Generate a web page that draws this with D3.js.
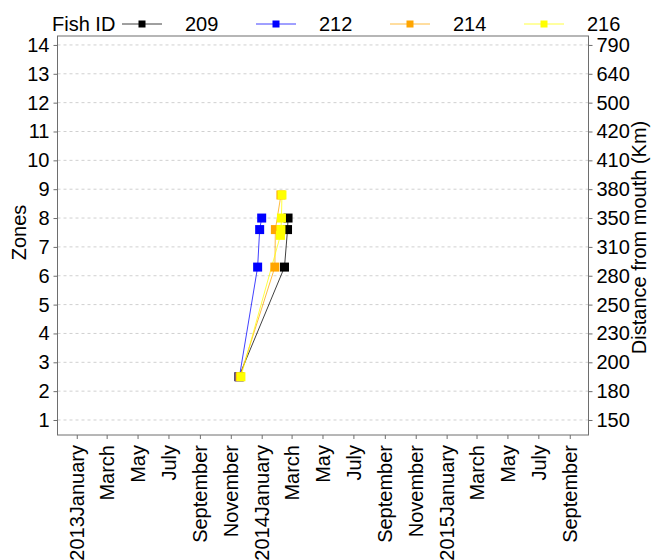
<!DOCTYPE html>
<html>
<head>
<meta charset="utf-8">
<script src="https://cdn.jsdelivr.net/npm/d3@7/dist/d3.min.js"></script>
<style>
  html, body { margin: 0; padding: 0; background: #fff; }
  svg { display: block; font-family: "Liberation Sans", Arial, sans-serif; }
</style>
</head>
<body>
<svg id="chart" width="651" height="560"></svg>
<script>
// Fish IDs and their colours
const fishIds = ["209", "212", "214", "216"];
const fishColors = ["#000000", "#0000ff", "#ffa500", "#ffff00"];

// Detection dates and zones per fish
const dates209 = ["2013-11-17", "2014-02-15", "2014-02-21", "2014-02-22"];
const zones209 = [2.5, 6.3, 7.6, 8.0];
const dates212 = ["2013-11-18", "2013-12-24", "2013-12-28", "2014-01-01"];
const zones212 = [2.5, 6.3, 7.6, 8.0];
const dates214 = ["2013-11-19", "2014-01-27", "2014-01-28", "2014-02-08"];
const zones214 = [2.5, 6.3, 7.6, 8.8];
const dates216 = ["2013-11-21", "2014-02-07", "2014-02-08", "2014-02-09", "2014-02-10"];
const zones216 = [2.5, 7.4, 7.6, 8.0, 8.8];

// Axis ticks
const zoneTicks = [1, 2, 3, 4, 5, 6, 7, 8, 9, 10, 11, 12, 13, 14];
const distanceLabels = ["150", "180", "200", "230", "250", "280", "310", "350", "380", "410", "420", "500", "640", "790"];
const monthTicks = ["2013-01", "2013-03", "2013-05", "2013-07", "2013-09", "2013-11",
                    "2014-01", "2014-03", "2014-05", "2014-07", "2014-09", "2014-11",
                    "2015-01", "2015-03", "2015-05", "2015-07", "2015-09"];

const parseDay = d3.timeParse("%Y-%m-%d");
const parseMonth = d3.timeParse("%Y-%m");

const seriesDates = [dates209, dates212, dates214, dates216];
const seriesZones = [zones209, zones212, zones214, zones216];
const series = fishIds.map((id, i) => ({
  id,
  color: fishColors[i],
  points: seriesDates[i].map((d, j) => ({ date: parseDay(d), zone: seriesZones[i][j] }))
}));

const svg = d3.select("#chart");
const panel = { left: 57.5, right: 588.5, top: 36, bottom: 435 };
const fontSize = 20;

const x = d3.scaleTime()
  .domain([parseDay("2012-11-24"), parseDay("2015-10-08")])
  .range([panel.left, panel.right]);
const y = d3.scaleLinear()
  .domain([0.48, 14.31])
  .range([panel.bottom, panel.top]);

// dashed horizontal gridlines
svg.append("g")
  .selectAll("line")
  .data(zoneTicks)
  .join("line")
  .attr("x1", panel.left).attr("x2", panel.right)
  .attr("y1", d => y(d)).attr("y2", d => y(d))
  .attr("stroke", "#d0d0d0")
  .attr("stroke-width", 1)
  .attr("stroke-dasharray", "3,3");

// panel border
svg.append("rect")
  .attr("x", panel.left).attr("y", panel.top)
  .attr("width", panel.right - panel.left)
  .attr("height", panel.bottom - panel.top)
  .attr("fill", "none")
  .attr("stroke", "#6e6e6e")
  .attr("stroke-width", 1);

function styleAxis(g) {
  g.select(".domain").remove();
  g.selectAll(".tick line").attr("stroke", "#6e6e6e");
  g.selectAll(".tick text")
    .attr("fill", "#000")
    .style("font-size", fontSize + "px")
    .style("font-family", "'Liberation Sans', Arial, sans-serif");
}

// left axis: zones
svg.append("g")
  .attr("transform", `translate(${panel.left},0)`)
  .call(d3.axisLeft(y).tickValues(zoneTicks).tickSize(4).tickPadding(4).tickFormat(d3.format("d")))
  .call(styleAxis);

// right axis: distance from mouth
svg.append("g")
  .attr("transform", `translate(${panel.right},0)`)
  .call(d3.axisRight(y).tickValues(zoneTicks).tickSize(4).tickPadding(4)
    .tickFormat((d, i) => distanceLabels[i]))
  .call(styleAxis);

// bottom axis: months, year shown on January
const monthFmt = d => (d.getMonth() === 0 ? d3.timeFormat("%Y%B")(d) : d3.timeFormat("%B")(d));
const xAxis = svg.append("g")
  .attr("transform", `translate(0,${panel.bottom})`)
  .call(d3.axisBottom(x).tickValues(monthTicks.map(parseMonth)).tickSize(4).tickFormat(monthFmt))
  .call(styleAxis);
xAxis.selectAll(".tick text")
  .attr("text-anchor", "end")
  .attr("transform", "rotate(-90)")
  .attr("x", -10)
  .attr("y", 0)
  .attr("dy", "0.35em");

// axis titles
svg.append("text")
  .attr("transform", `translate(26,${(panel.top + panel.bottom) / 2 - 3}) rotate(-90)`)
  .attr("text-anchor", "middle")
  .style("font-size", fontSize + "px")
  .text("Zones");
svg.append("text")
  .attr("transform", `translate(646,${(panel.top + panel.bottom) / 2 + 2}) rotate(-90)`)
  .attr("text-anchor", "middle")
  .style("font-size", fontSize + "px")
  .text("Distance from mouth (Km)");

// movement paths
const line = d3.line().x(d => x(d.date)).y(d => y(d.zone));
svg.append("g")
  .selectAll("path")
  .data(series)
  .join("path")
  .attr("d", d => line(d.points))
  .attr("fill", "none")
  .attr("stroke", d => d.color)
  .attr("stroke-opacity", 0.75)
  .attr("stroke-width", 1);

// detection markers
const sq = 9;
svg.append("g")
  .selectAll("g")
  .data(series)
  .join("g")
  .attr("fill", d => d.color)
  .selectAll("rect")
  .data(d => d.points)
  .join("rect")
  .attr("x", d => x(d.date) - sq / 2)
  .attr("y", d => y(d.zone) - sq / 2)
  .attr("width", sq)
  .attr("height", sq);

// legend
const legend = svg.append("g").attr("transform", "translate(0,24)");
legend.append("text")
  .attr("x", 52).attr("y", 0).attr("dy", "0.35em")
  .style("font-size", fontSize + "px")
  .text("Fish ID");
const keyCenters = [142, 276, 410, 544];
const items = legend.selectAll("g.item")
  .data(series)
  .join("g")
  .attr("class", "item")
  .attr("transform", (d, i) => `translate(${keyCenters[i]},0)`);
items.append("line")
  .attr("x1", -20).attr("x2", 20)
  .attr("stroke", d => d.color)
  .attr("stroke-opacity", 0.75)
  .attr("stroke-width", 1);
items.append("rect")
  .attr("x", -3.5).attr("y", -3.5)
  .attr("width", 7).attr("height", 7)
  .attr("fill", d => d.color);
items.append("text")
  .attr("x", 43).attr("dy", "0.35em")
  .style("font-size", fontSize + "px")
  .text(d => d.id);
</script>
</body>
</html>
